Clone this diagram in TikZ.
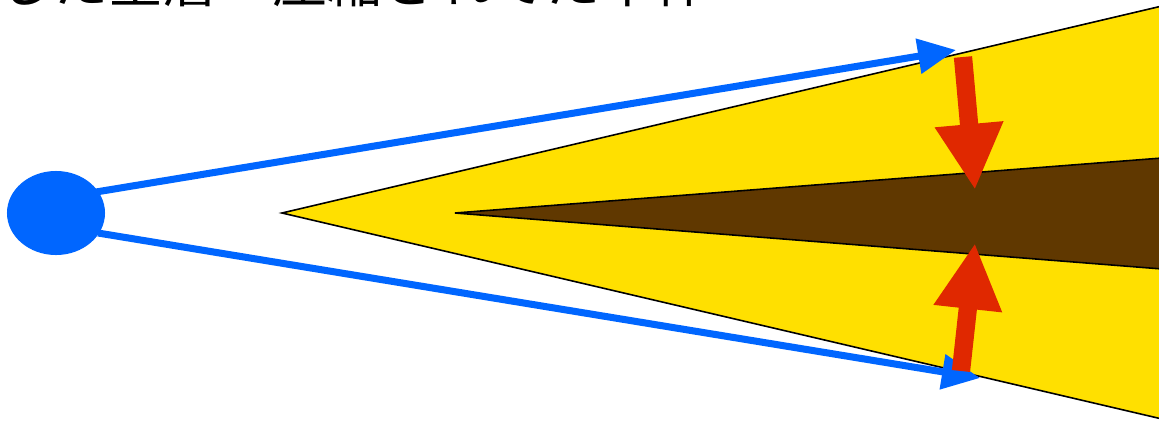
\documentclass[tikz,border=0pt]{standalone}
\usepackage{fontspec}
\newfontfamily\cjk{Noto Sans CJK JP}
\usetikzlibrary{arrows.meta,shapes.geometric}
\definecolor{cblue}{RGB}{0,102,255}
\definecolor{cyellow}{RGB}{255,224,0}
\definecolor{cbrown}{RGB}{96,56,0}
\definecolor{cred}{RGB}{224,40,0}
\begin{document}
\begin{tikzpicture}[x=0.01cm,y=-0.01cm,
  bluearrow/.style={draw=cblue,line width=2pt,-{Triangle[length=0.38cm,width=0.34cm]}},
  redarrow/.style={draw=cred,line width=5.2pt,-{Triangle[length=0.66cm,width=0.64cm]}},
  cone/.style={draw=black,line width=0.45pt,line join=miter}]
\useasboundingbox (0,0) rectangle (1159,424);
\fill[white] (0,0) rectangle (1159,424);
% title (cut off at top)
\node[anchor=base west,inner sep=0pt,font=\cjk\fontsize{15.6pt}{18pt}\selectfont] (title) at (-2,2) {した金層ー圧縮されてた中体};
% cones
\filldraw[cone,fill=cyellow] (282,213) -- (1162,6) -- (1162,419) -- cycle;
\filldraw[cone,fill=cbrown] (455,213) -- (1162,158) -- (1162,269) -- cycle;
% source
\node[ellipse,fill=cblue,minimum width=0.98cm,minimum height=0.84cm,inner sep=0pt] (src) at (56,213) {};
\coordinate (s1) at (96,192);
\coordinate (t1) at (956,50);
\coordinate (s2) at (98,233);
\coordinate (t2) at (980,378);
\draw[bluearrow] (s1) -- (t1);
\draw[bluearrow] (s2) -- (t2);
% red arrows
\coordinate (r1a) at (963,57);
\coordinate (r1b) at (975,190);
\coordinate (r2a) at (961,371);
\coordinate (r2b) at (975,243);
\draw[redarrow] (r1a) -- (r1b);
\draw[redarrow] (r2a) -- (r2b);
\end{tikzpicture}
\end{document}
